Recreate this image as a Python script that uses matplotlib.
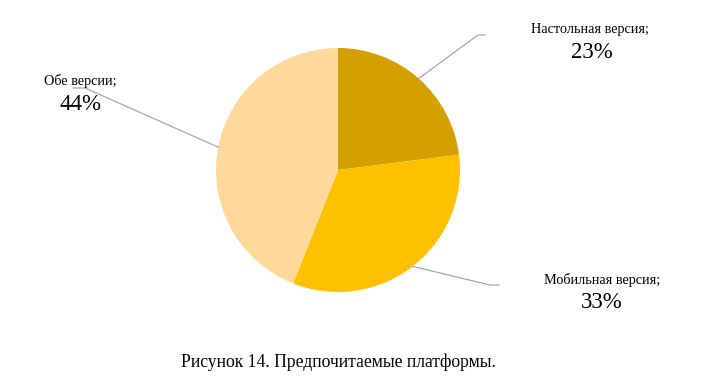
import numpy as np
import matplotlib.pyplot as plt

# Data
labels = ['Настольная версия', 'Мобильная версия', 'Обе версии']
shares = [23, 33, 44]
colors = ['#D4A000', '#FFC000', '#FFD89B']
caption = 'Рисунок 14. Предпочитаемые платформы.'

plt.rcParams['font.family'] = ['Liberation Serif', 'DejaVu Serif']

W, H = 720, 390
fig = plt.figure(figsize=(7.2, 3.9), dpi=100)
ax = fig.add_axes([0, 0, 1, 1])

cx, cy, r = 338, H - 170, 122
wedges, _ = ax.pie(shares, colors=colors, startangle=90, counterclock=False,
                   center=(cx, cy), radius=r, frame=True)
ax.set_xlim(0, W)
ax.set_ylim(0, H)
ax.set_aspect('equal')
ax.axis('off')

# label positions (pixel coords from top): elbow, line end, text center
label_pos = [
    ((478, 35), (485, 35), (590, 30), (592, 53)),
    ((490, 285), (499, 285), (602, 280), (602, 303)),
    ((85, 88), (73, 88), (80, 81), (81, 104)),
]

for w, name, val, (elbow, end, tname, tval) in zip(wedges, labels, shares, label_pos):
    ang = np.deg2rad((w.theta1 + w.theta2) / 2)
    x0 = cx + r * np.cos(ang)
    y0 = cy + r * np.sin(ang)
    ax.plot([x0, elbow[0], end[0]], [y0, H - elbow[1], H - end[1]],
            color='#A6A6A6', lw=0.9)
    ax.text(tname[0], H - tname[1], name + ';', ha='center', va='center',
            fontsize=10.3)
    ax.text(tval[0], H - tval[1], f'{val}%', ha='center', va='center',
            fontsize=16.5)

fig.text(338 / W, 1 - 362 / H, caption, ha='center', va='center', fontsize=12.7)

fig.savefig('out.png', dpi=100)
